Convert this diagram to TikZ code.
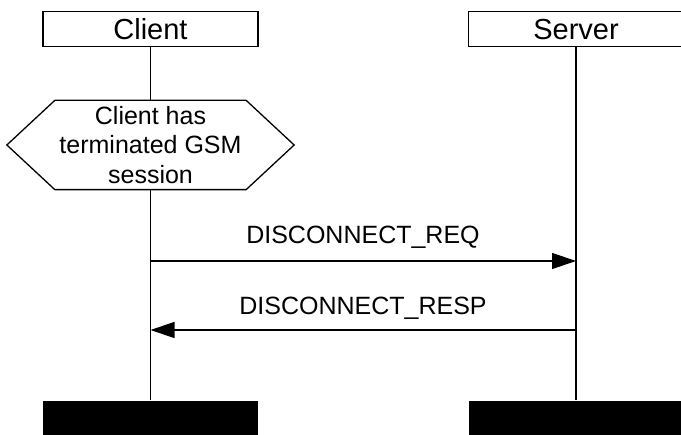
\documentclass[tikz,border=0pt]{standalone}
\usepackage{fontspec}
\setmainfont{Liberation Sans}
\usetikzlibrary{arrows.meta}

\begin{document}
\begin{tikzpicture}[x=1pt,y=-1pt,line width=1.3pt,
  entity/.style={draw,minimum width=215pt,minimum height=35pt,inner sep=0pt,font=\fontsize{29}{34}\selectfont},
  endbar/.style={fill=black,minimum width=215pt,minimum height=36pt,inner sep=0pt},
  condition/.style={minimum width=286pt,minimum height=88pt,inner sep=0pt,align=center,font=\fontsize{25}{29.5}\selectfont},
  msg/.style={-{Triangle[length=24pt,width=16pt]}},
  msglabel/.style={anchor=base,font=\fontsize{25}{29.5}\selectfont}]
  \useasboundingbox (0,0) rectangle (681,435);
  \clip (0,0) rectangle (681,435);
  \node[entity] (client) at (150.5,29.2) {Client};
  \node[entity] (server) at (576,29.2) {Server};
  \node[condition] (state) at (150.5,145) {Client has\\terminated GSM\\session};
  \draw (state.west) -- ([xshift=48pt]state.north west) -- ([xshift=-48pt]state.north east)
    -- (state.east) -- ([xshift=-48pt]state.south east) -- ([xshift=48pt]state.south west) -- cycle;
  \node[endbar] (clientend) at (150.5,419) {};
  \node[endbar] (serverend) at (576,419) {};
  \draw (client) -- (state);
  \draw (state) -- (clientend);
  \draw (server) -- (serverend);
  \coordinate (reqa) at (client.south |- 0,261);
  \coordinate (reqb) at (server.south |- 0,261);
  \coordinate (respa) at (server.south |- 0,330);
  \coordinate (respb) at (client.south |- 0,330);
  \draw[msg] (reqa) -- (reqb);
  \node[msglabel] (reqlabel) at (363,244) {DISCONNECT\_REQ};
  \draw[msg] (respa) -- (respb);
  \node[msglabel] (resplabel) at (363,315) {DISCONNECT\_RESP};
\end{tikzpicture}
\end{document}
